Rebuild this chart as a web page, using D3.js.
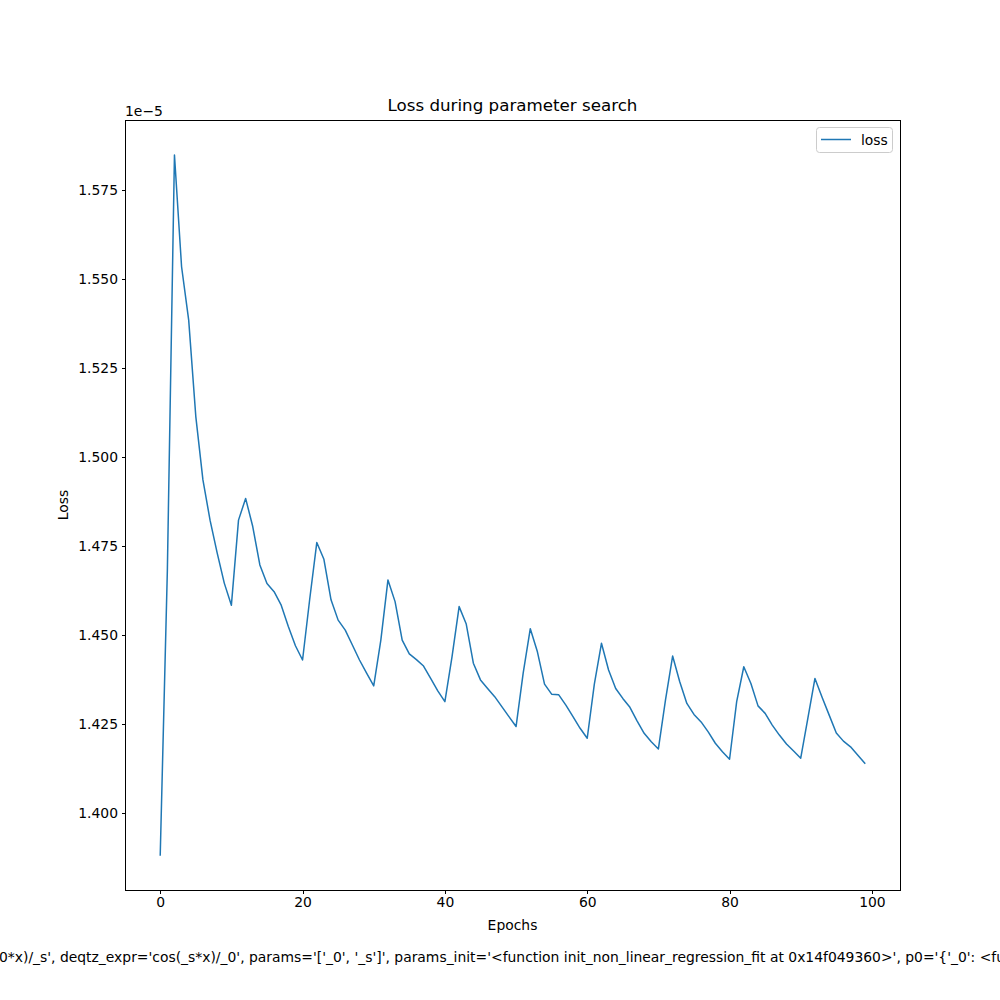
<!DOCTYPE html>
<html>
<head>
<meta charset="utf-8">
<script src="https://cdn.jsdelivr.net/npm/d3@7"></script>
<style>
  body { margin: 0; background: #fff; }
  svg { display: block; font-family: "DejaVu Sans", sans-serif; }
</style>
</head>
<body>
<svg id="chart" width="1000" height="1000"></svg>
<script>
// ---- data (loss values in units of 1e-5) ----
const epochs = d3.range(0, 100);
const loss = [
  1.3882, 1.4680, 1.5849, 1.5535, 1.5385, 1.5114, 1.4936, 1.4823, 1.4731, 1.4646,
  1.4584, 1.4823, 1.4884, 1.4805, 1.4697, 1.4645, 1.4622, 1.4584, 1.4524, 1.4470,
  1.4430, 1.4600, 1.4760, 1.4713, 1.4599, 1.4542, 1.4514, 1.4472, 1.4430, 1.4393,
  1.4357, 1.4486, 1.4655, 1.4594, 1.4486, 1.4447, 1.4431, 1.4413, 1.4378, 1.4343,
  1.4313, 1.4439, 1.4580, 1.4531, 1.4421, 1.4374, 1.4350, 1.4327, 1.4299, 1.4271,
  1.4243, 1.4393, 1.4518, 1.4453, 1.4362, 1.4334, 1.4332, 1.4303, 1.4271, 1.4238,
  1.4210, 1.4362, 1.4477, 1.4402, 1.4350, 1.4322, 1.4297, 1.4259, 1.4224, 1.4200,
  1.4180, 1.4318, 1.4441, 1.4369, 1.4308, 1.4277, 1.4256, 1.4228, 1.4196, 1.4172,
  1.4151, 1.4313, 1.4411, 1.4364, 1.4301, 1.4280, 1.4247, 1.4219, 1.4194, 1.4174,
  1.4154, 1.4266, 1.4378, 1.4325, 1.4275, 1.4225, 1.4202, 1.4186, 1.4163, 1.4140
];
const xTicks = [0, 20, 40, 60, 80, 100];
const yTicks = [1.400, 1.425, 1.450, 1.475, 1.500, 1.525, 1.550, 1.575];
const seriesName = "loss";
const titleText = "Loss during parameter search";
const xLabel = "Epochs";
const yLabel = "Loss";
const offsetText = "1e\u22125";
const footerText = "0*x)/_s', deqtz_expr='cos(_s*x)/_0', params='['_0', '_s']', params_init='<function init_non_linear_regression_fit at 0x14f049360>', p0='{'_0': <fu";

// ---- layout ----
const L = 125, R = 900, T = 120, B = 890;
const color = "#1f77b4";
const svg = d3.select("#chart");

const xMin = d3.min(epochs), xMax = d3.max(epochs);
const xPad = (xMax - xMin) * 0.05;
const yMin = d3.min(loss), yMax = d3.max(loss);
const yPad = (yMax - yMin) * 0.05;

const x = d3.scaleLinear().domain([xMin - xPad, xMax + xPad]).range([L, R]);
const y = d3.scaleLinear().domain([yMin - yPad, yMax + yPad]).range([B, T]);

// line
const line = d3.line().x((d, i) => x(epochs[i])).y(d => y(d));
svg.append("path")
  .datum(loss)
  .attr("d", line)
  .attr("fill", "none")
  .attr("stroke", color)
  .attr("stroke-width", 1.5)
  .attr("stroke-linejoin", "round")
  .attr("stroke-linecap", "square");

// axes
const xAxis = d3.axisBottom(x).tickValues(xTicks).tickSize(3.5).tickPadding(3.5).tickFormat(d3.format("d"));
const yAxis = d3.axisLeft(y).tickValues(yTicks).tickSize(3.5).tickPadding(3.5).tickFormat(d3.format(".3f"));

const gx = svg.append("g").attr("transform", `translate(0,${B})`).call(xAxis);
const gy = svg.append("g").attr("transform", `translate(${L},0)`).call(yAxis);
[gx, gy].forEach(g => {
  g.select(".domain").remove();
  g.selectAll(".tick line").attr("stroke", "#000").attr("stroke-width", 1).attr("shape-rendering", "crispEdges");
  g.selectAll(".tick text").attr("fill", "#000").style("font-size", "13.9px").style("font-family", "DejaVu Sans");
});

// frame
svg.append("rect")
  .attr("x", L).attr("y", T).attr("width", R - L).attr("height", B - T)
  .attr("fill", "none").attr("stroke", "#000").attr("stroke-width", 1)
  .attr("shape-rendering", "crispEdges");

// title
svg.append("text").attr("x", (L + R) / 2).attr("y", 111)
  .attr("text-anchor", "middle").style("font-size", "16.7px").text(titleText);

// offset text
svg.append("text").attr("x", L).attr("y", 116)
  .attr("text-anchor", "start").style("font-size", "13.9px").text(offsetText);

// axis labels
svg.append("text").attr("x", (L + R) / 2).attr("y", 930)
  .attr("text-anchor", "middle").style("font-size", "13.9px").text(xLabel);
svg.append("text").attr("transform", `translate(68,${(T + B) / 2}) rotate(-90)`)
  .attr("text-anchor", "middle").style("font-size", "13.9px").text(yLabel);

// legend
const lg = svg.append("g");
lg.append("rect").attr("x", 816.5).attr("y", 127.5).attr("width", 76).attr("height", 25)
  .attr("rx", 3).attr("fill", "#fff").attr("fill-opacity", 0.8)
  .attr("stroke", "#ccc").attr("stroke-width", 1);
lg.append("line").attr("x1", 821).attr("x2", 851).attr("y1", 139.5).attr("y2", 139.5)
  .attr("stroke", color).attr("stroke-width", 1.5);
lg.append("text").attr("x", 861).attr("y", 144.5).style("font-size", "13.9px").text(seriesName);

// footer text (clipped by figure edge, as in the reference)
svg.append("text").attr("x", -1).attr("y", 962)
  .attr("text-anchor", "start").style("font-size", "13.9px").text(footerText);
</script>
</body>
</html>
